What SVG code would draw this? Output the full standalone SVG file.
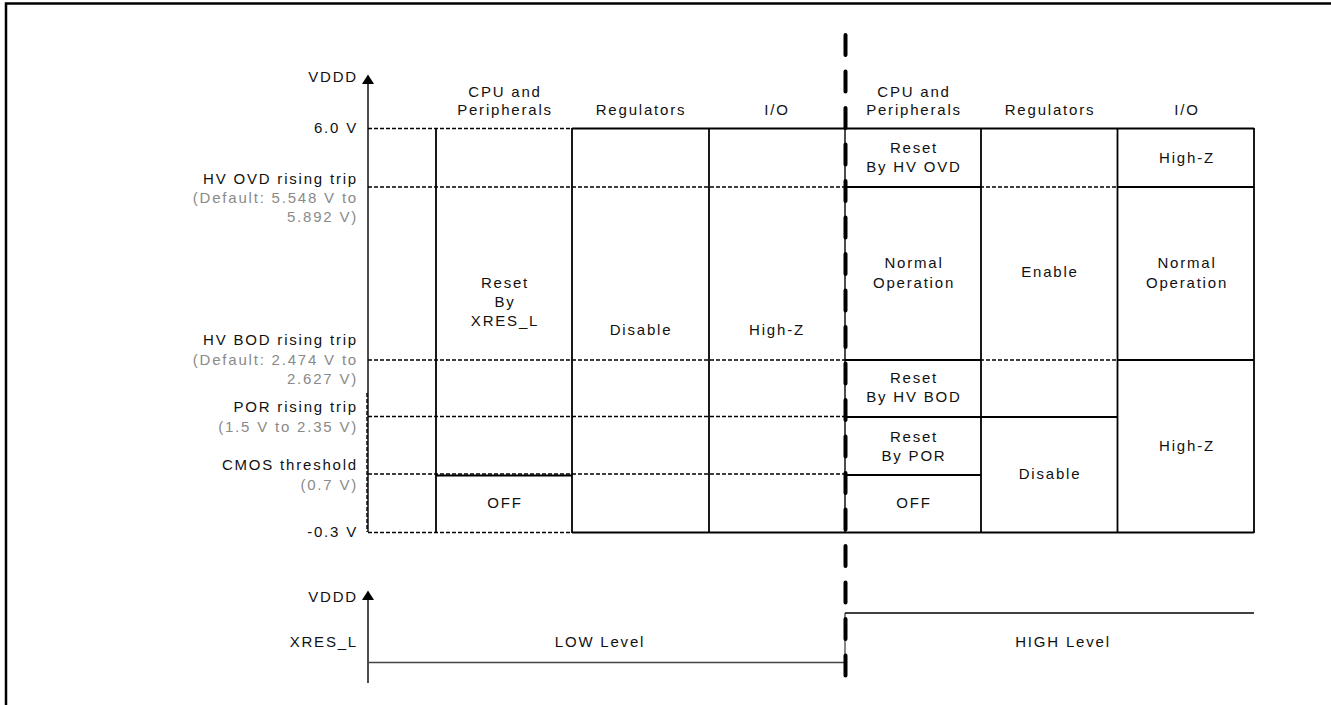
<svg xmlns="http://www.w3.org/2000/svg" width="1331" height="705" viewBox="0 0 1331 705">
<style>
text{font-family:"Liberation Sans",Arial,sans-serif;font-size:15px;letter-spacing:1.8px;fill:#111}
.g{fill:#8a8a8a}
.e{text-anchor:end}
.m{text-anchor:middle}
.s{stroke:#000;stroke-width:1.8;fill:none}
.t{stroke:#000;stroke-width:1.4;fill:none}
.d{stroke:#000;stroke-width:1.4;stroke-dasharray:4 2;fill:none}
.big{stroke:#000;stroke-width:4;stroke-dasharray:20 16.5;stroke-linecap:round;fill:none}
</style>
<rect width="1331" height="705" fill="#fff"/>
<g id="frame"><path d="M6,705 V3.5 H1331" fill="none" stroke="#000" stroke-width="2.5"/></g>

<g id="axis-top">
<line class="t" x1="368" y1="83" x2="368" y2="532"/>
<polygon points="368,74.5 362,84 374,84" fill="#000"/>
<line class="d" x1="367" y1="393" x2="367" y2="532"/>
</g>

<g id="connectors">
<line class="d" x1="368" y1="128.5" x2="572" y2="128.5"/>
<line class="d" x1="368" y1="187" x2="1117" y2="187"/>
<line class="d" x1="368" y1="360" x2="1117" y2="360"/>
<line class="d" x1="368" y1="416.5" x2="845" y2="416.5"/>
<line class="d" x1="368" y1="474" x2="845" y2="474"/>
<line class="d" x1="368" y1="532.5" x2="572" y2="532.5"/>
</g>

<g id="table-left">
<line class="s" x1="436" y1="128" x2="436" y2="533"/>
<line class="s" x1="572" y1="128" x2="572" y2="533"/>
<line class="s" x1="709" y1="128" x2="709" y2="533"/>
<line class="s" x1="572" y1="128.5" x2="845" y2="128.5"/>
<line class="s" x1="572" y1="532.5" x2="845" y2="532.5"/>
<line class="s" x1="436" y1="475.5" x2="572" y2="475.5"/>
<line class="t" x1="845" y1="128" x2="845" y2="532"/>
</g>

<g id="table-right">
<line class="s" x1="845" y1="128.5" x2="1254" y2="128.5"/>
<line class="s" x1="845" y1="532.5" x2="1254" y2="532.5"/>
<line class="s" x1="981" y1="128" x2="981" y2="533"/>
<line class="s" x1="1117.5" y1="128" x2="1117.5" y2="533"/>
<line class="s" x1="1254" y1="128" x2="1254" y2="533"/>
<line class="s" x1="845" y1="187" x2="981" y2="187"/>
<line class="s" x1="845" y1="360" x2="981" y2="360"/>
<line class="s" x1="845" y1="417" x2="1117" y2="417"/>
<line class="s" x1="845" y1="475" x2="981" y2="475"/>
<line class="s" x1="1117" y1="187" x2="1254" y2="187"/>
<line class="s" x1="1117" y1="360" x2="1254" y2="360"/>
</g>

<g id="axis-labels">
<text class="e" x="358" y="82">VDDD</text>
<text class="e" x="358" y="133">6.0 V</text>
<text class="e" x="358" y="184">HV OVD rising trip</text>
<text class="e g" x="358" y="203">(Default: 5.548 V to</text>
<text class="e g" x="358" y="222">5.892 V)</text>
<text class="e" x="358" y="345">HV BOD rising trip</text>
<text class="e g" x="358" y="365">(Default: 2.474 V to</text>
<text class="e g" x="358" y="384">2.627 V)</text>
<text class="e" x="358" y="412">POR rising trip</text>
<text class="e g" x="358" y="432">(1.5 V to 2.35 V)</text>
<text class="e" x="358" y="470">CMOS threshold</text>
<text class="e g" x="358" y="490">(0.7 V)</text>
<text class="e" x="358" y="537">-0.3 V</text>
</g>

<g id="headers">
<text class="m" x="505" y="97">CPU and</text>
<text class="m" x="505" y="115">Peripherals</text>
<text class="m" x="641" y="115">Regulators</text>
<text class="m" x="777" y="115">I/O</text>
<text class="m" x="914" y="97">CPU and</text>
<text class="m" x="914" y="115">Peripherals</text>
<text class="m" x="1050" y="115">Regulators</text>
<text class="m" x="1187" y="115">I/O</text>
</g>

<g id="cells-left">
<text class="m" x="505" y="288">Reset</text>
<text class="m" x="505" y="307">By</text>
<text class="m" x="505" y="326">XRES_L</text>
<text class="m" x="641" y="335">Disable</text>
<text class="m" x="777" y="335">High-Z</text>
<text class="m" x="505" y="508">OFF</text>
</g>

<g id="cells-right">
<text class="m" x="914" y="153">Reset</text>
<text class="m" x="914" y="172">By HV OVD</text>
<text class="m" x="1187" y="163">High-Z</text>
<text class="m" x="914" y="268">Normal</text>
<text class="m" x="914" y="288">Operation</text>
<text class="m" x="1050" y="277">Enable</text>
<text class="m" x="1187" y="268">Normal</text>
<text class="m" x="1187" y="288">Operation</text>
<text class="m" x="914" y="383">Reset</text>
<text class="m" x="914" y="402">By HV BOD</text>
<text class="m" x="914" y="442">Reset</text>
<text class="m" x="914" y="461">By POR</text>
<text class="m" x="914" y="508">OFF</text>
<text class="m" x="1050" y="479">Disable</text>
<text class="m" x="1187" y="451">High-Z</text>
</g>

<g id="xres">
<line class="t" x1="368" y1="600" x2="368" y2="683"/>
<polygon points="368,590.5 362,600 374,600" fill="#000"/>
<text class="e" x="358" y="602">VDDD</text>
<text class="e" x="358" y="647">XRES_L</text>
<line x1="368" y1="662.5" x2="845" y2="662.5" stroke="#444" stroke-width="1.3"/>
<line x1="845" y1="613" x2="845" y2="662.5" stroke="#444" stroke-width="1.3"/>
<line class="t" x1="845" y1="613" x2="1254" y2="613"/>
<text class="m" x="600" y="647">LOW Level</text>
<text class="m" x="1063" y="647">HIGH Level</text>
</g>

<g id="divider">
<line class="big" x1="845.5" y1="35" x2="845.5" y2="680"/>
</g>
</svg>
